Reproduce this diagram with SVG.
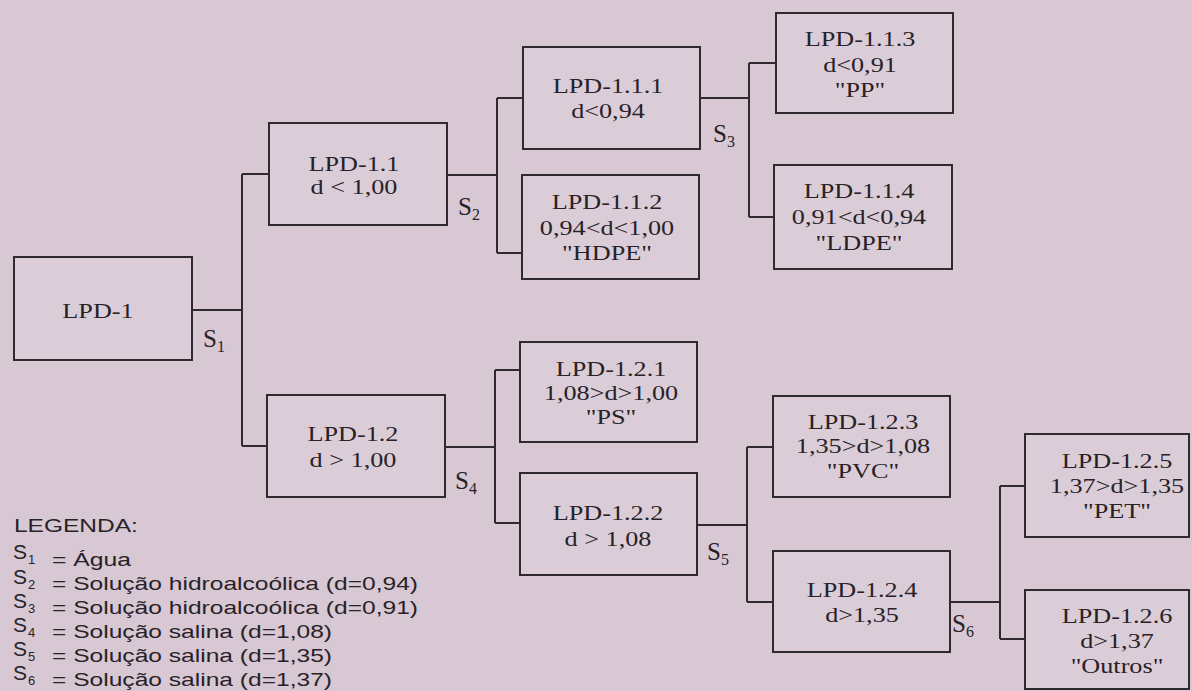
<svg xmlns="http://www.w3.org/2000/svg" width="1192" height="691" viewBox="0 0 1192 691">
<style>
.bg{fill:#d7c8d3}
.box{fill:#dbcdd8;stroke:#2f2a30;stroke-width:2}
.ln{fill:none;stroke:#2f2a30;stroke-width:2}
.t{font-family:"Liberation Serif","Times New Roman",serif;font-size:20px;fill:#282227;text-anchor:middle}
.s{font-family:"Liberation Serif","Times New Roman",serif;font-size:25px;fill:#282227}
.ss{font-family:"Liberation Serif","Times New Roman",serif;font-size:16px;fill:#282227}
.lg{font-family:"Liberation Sans",Arial,sans-serif;font-size:19px;fill:#282227}
.lS{font-family:"Liberation Sans",Arial,sans-serif;font-size:21px;fill:#282227}
.lsub{font-family:"Liberation Sans",Arial,sans-serif;font-size:13px;fill:#282227}
</style>
<rect class="bg" x="0" y="0" width="1192" height="691"/>
<g id="connectors">
<path class="ln" d="M192 310H242M242 174V446M242 174H269M242 446H267"/>
<path class="ln" d="M447 175H497M497 98V253M497 98H523M497 253H522"/>
<path class="ln" d="M700 98H749M749 63V217M749 63H776M749 217H774"/>
<path class="ln" d="M445 447H495M495 370V523M495 370H520M495 523H520"/>
<path class="ln" d="M697 525H747M747 447V602M747 447H773M747 602H773"/>
<path class="ln" d="M950 602H1000M1000 486V639M1000 486H1025M1000 639H1025"/>
</g>
<g id="labels-s">
<text class="s" x="203" y="347">S</text><text class="ss" x="217" y="352">1</text>
<text class="s" x="458" y="215">S</text><text class="ss" x="472" y="220">2</text>
<text class="s" x="713" y="142">S</text><text class="ss" x="727" y="147">3</text>
<text class="s" x="455" y="489">S</text><text class="ss" x="469" y="494">4</text>
<text class="s" x="707" y="560">S</text><text class="ss" x="721" y="565">5</text>
<text class="s" x="952" y="632">S</text><text class="ss" x="966" y="637">6</text>
</g>
<g id="n1"><rect class="box" x="14" y="257" width="178" height="103"/>
<text class="t" transform="translate(98 318) scale(1.31 1)">LPD-1</text></g>
<g id="n11"><rect class="box" x="269" y="123" width="178" height="102"/>
<text class="t" transform="translate(354 171) scale(1.31 1)">LPD-1.1</text>
<text class="t" transform="translate(354 194) scale(1.31 1)">d &lt; 1,00</text></g>
<g id="n111"><rect class="box" x="523" y="47" width="177" height="102"/>
<text class="t" transform="translate(608 93) scale(1.31 1)">LPD-1.1.1</text>
<text class="t" transform="translate(608 118) scale(1.31 1)">d&lt;0,94</text></g>
<g id="n112"><rect class="box" x="522" y="175" width="177" height="104"/>
<text class="t" transform="translate(607 209) scale(1.31 1)">LPD-1.1.2</text>
<text class="t" transform="translate(607 235) scale(1.31 1)">0,94&lt;d&lt;1,00</text>
<text class="t" transform="translate(607 260) scale(1.31 1)">"HDPE"</text></g>
<g id="n113"><rect class="box" x="776" y="13" width="177" height="100"/>
<text class="t" transform="translate(860 46) scale(1.31 1)">LPD-1.1.3</text>
<text class="t" transform="translate(860 72) scale(1.31 1)">d&lt;0,91</text>
<text class="t" transform="translate(860 97) scale(1.31 1)">"PP"</text></g>
<g id="n114"><rect class="box" x="774" y="165" width="178" height="104"/>
<text class="t" transform="translate(859 198) scale(1.31 1)">LPD-1.1.4</text>
<text class="t" transform="translate(859 224) scale(1.31 1)">0,91&lt;d&lt;0,94</text>
<text class="t" transform="translate(859 250) scale(1.31 1)">"LDPE"</text></g>
<g id="n12"><rect class="box" x="267" y="395" width="178" height="102"/>
<text class="t" transform="translate(353 441) scale(1.31 1)">LPD-1.2</text>
<text class="t" transform="translate(353 467) scale(1.31 1)">d &gt; 1,00</text></g>
<g id="n121"><rect class="box" x="520" y="342" width="177" height="100"/>
<text class="t" transform="translate(611 376) scale(1.31 1)">LPD-1.2.1</text>
<text class="t" transform="translate(611 400) scale(1.31 1)">1,08&gt;d&gt;1,00</text>
<text class="t" transform="translate(611 424) scale(1.31 1)">"PS"</text></g>
<g id="n122"><rect class="box" x="520" y="473" width="177" height="102"/>
<text class="t" transform="translate(608 520) scale(1.31 1)">LPD-1.2.2</text>
<text class="t" transform="translate(608 546) scale(1.31 1)">d &gt; 1,08</text></g>
<g id="n123"><rect class="box" x="773" y="396" width="177" height="101"/>
<text class="t" transform="translate(863 429) scale(1.31 1)">LPD-1.2.3</text>
<text class="t" transform="translate(863 453) scale(1.31 1)">1,35&gt;d&gt;1,08</text>
<text class="t" transform="translate(863 478) scale(1.31 1)">"PVC"</text></g>
<g id="n124"><rect class="box" x="773" y="551" width="177" height="101"/>
<text class="t" transform="translate(862 597) scale(1.31 1)">LPD-1.2.4</text>
<text class="t" transform="translate(862 622) scale(1.31 1)">d&gt;1,35</text></g>
<g id="n125"><rect class="box" x="1025" y="434" width="164" height="103"/>
<text class="t" transform="translate(1117 468) scale(1.31 1)">LPD-1.2.5</text>
<text class="t" transform="translate(1117 493) scale(1.31 1)">1,37&gt;d&gt;1,35</text>
<text class="t" transform="translate(1117 518) scale(1.31 1)">"PET"</text></g>
<g id="n126"><rect class="box" x="1025" y="590" width="164" height="99"/>
<text class="t" transform="translate(1117 623) scale(1.31 1)">LPD-1.2.6</text>
<text class="t" transform="translate(1117 648) scale(1.31 1)">d&gt;1,37</text>
<text class="t" transform="translate(1117 673) scale(1.31 1)">"Outros"</text></g>
<g id="legend">
<text class="lg" transform="translate(14 532) scale(1.29 1)">LEGENDA:</text>
<text class="lS" x="13" y="559">S</text><text class="lsub" x="28" y="564">1</text>
<text class="lg" x="52" y="566" textLength="79" lengthAdjust="spacingAndGlyphs">= Água</text>
<text class="lS" x="13" y="584">S</text><text class="lsub" x="28" y="589">2</text>
<text class="lg" x="52" y="590" textLength="366" lengthAdjust="spacingAndGlyphs">= Solução hidroalcoólica (d=0,94)</text>
<text class="lS" x="13" y="608">S</text><text class="lsub" x="28" y="613">3</text>
<text class="lg" x="52" y="614" textLength="366" lengthAdjust="spacingAndGlyphs">= Solução hidroalcoólica (d=0,91)</text>
<text class="lS" x="13" y="632">S</text><text class="lsub" x="28" y="637">4</text>
<text class="lg" x="52" y="638" textLength="280" lengthAdjust="spacingAndGlyphs">= Solução salina (d=1,08)</text>
<text class="lS" x="13" y="656">S</text><text class="lsub" x="28" y="661">5</text>
<text class="lg" x="52" y="662" textLength="280" lengthAdjust="spacingAndGlyphs">= Solução salina (d=1,35)</text>
<text class="lS" x="13" y="680">S</text><text class="lsub" x="28" y="685">6</text>
<text class="lg" x="52" y="686" textLength="280" lengthAdjust="spacingAndGlyphs">= Solução salina (d=1,37)</text>
</g>
</svg>
